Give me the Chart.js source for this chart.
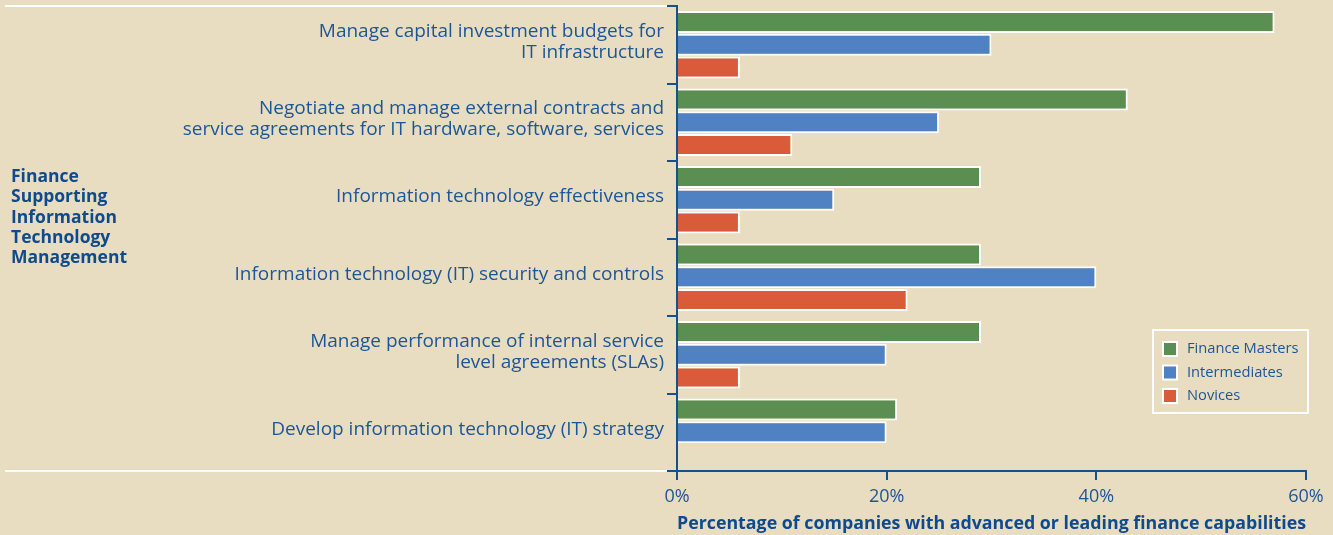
<!DOCTYPE html>
<html>
<head>
<meta charset="utf-8">
<script src="https://cdn.jsdelivr.net/npm/chart.js@4"></script>
<style>
  html, body { margin: 0; padding: 0; background: #e8ddc1; }
  #wrap { width: 1333px; height: 535px; position: relative; }
</style>
</head>
<body>
<div id="wrap"><canvas id="chart" width="1333" height="535"></canvas></div>
<script>
// ---- data ----
const categories = [
    ['Manage capital investment budgets for', 'IT infrastructure'],
    ['Negotiate and manage external contracts and', 'service agreements for IT hardware, software, services'],
    'Information technology effectiveness',
    'Information technology (IT) security and controls',
    ['Manage performance of internal service', 'level agreements (SLAs)'],
    'Develop information technology (IT) strategy'
];
const seriesNames = ['Finance Masters', 'Intermediates', 'Novices'];
const financeMasters = [57, 43, 29, 29, 29, 21];
const intermediates = [30, 25, 15, 40, 20, 20];
const novices = [6, 11, 6, 22, 6, 0];
const xTicks = [0, 20, 40, 60];
const groupTitle = ['Finance', 'Supporting', 'Information', 'Technology', 'Management'];
const axisTitle = 'Percentage of companies with advanced or leading finance capabilities';

// ---- style ----
const BLUE_TXT = '#1d5697';
const BLUE_DARK = '#0f4a8c';
const AXIS = '#15508f';
const COLORS = ['#5b8f52', '#4f81c3', '#d95b3a'];
const FONT = "'Open Sans', 'Noto Sans', sans-serif";

// white rules + left group title
const decorations = {
    id: 'decorations',
    beforeDraw(chart) {
        const { ctx, chartArea } = chart;
        ctx.save();
        ctx.strokeStyle = '#ffffff';
        ctx.lineWidth = 2;
        ctx.beginPath();
        ctx.moveTo(5, chartArea.top);
        ctx.lineTo(chartArea.left - 10, chartArea.top);
        ctx.moveTo(5, chartArea.bottom);
        ctx.lineTo(chartArea.left - 10, chartArea.bottom);
        ctx.stroke();

        ctx.fillStyle = BLUE_DARK;
        ctx.font = `bold 17.5px ${FONT}`;
        ctx.textBaseline = 'middle';
        ctx.textAlign = 'left';
        groupTitle.forEach((t, i) => ctx.fillText(t, 11, 177 + i * 20.3));
        ctx.restore();
    }
};

// legend box inside the plot
const boxLegend = {
    id: 'boxLegend',
    afterDraw(chart) {
        const { ctx } = chart;
        const x = 1153, y = 330, w = 155, h = 83;
        ctx.save();
        ctx.strokeStyle = '#ffffff';
        ctx.lineWidth = 2;
        ctx.strokeRect(x, y, w, h);
        ctx.font = `14.7px ${FONT}`;
        ctx.textBaseline = 'middle';
        chart.data.datasets.forEach((ds, i) => {
            const cy = y + 19 + i * 23.5;
            ctx.fillStyle = '#ffffff';
            ctx.fillRect(x + 9, cy - 8, 16, 16);
            ctx.fillStyle = ds.backgroundColor;
            ctx.fillRect(x + 11, cy - 6, 12, 12);
            ctx.fillStyle = BLUE_TXT;
            ctx.fillText(ds.label, x + 34, cy);
        });
        ctx.restore();
    }
};

const mkSet = (i, data) => ({
    label: seriesNames[i],
    data,
    backgroundColor: COLORS[i],
    borderColor: '#ffffff',
    borderWidth: 2,
    barPercentage: 0.96,
    categoryPercentage: 0.88
});

new Chart(document.getElementById('chart'), {
    type: 'bar',
    data: {
        labels: categories,
        datasets: [mkSet(0, financeMasters), mkSet(1, intermediates), mkSet(2, novices)]
    },
    options: {
        indexAxis: 'y',
        responsive: false,
        animation: false,
        layout: { padding: { top: 6, right: 27, left: 0, bottom: 0 } },
        plugins: { legend: { display: false }, tooltip: { enabled: false } },
        scales: {
            x: {
                min: 0, max: 60,
                afterBuildTicks: s => { s.ticks = xTicks.map(v => ({ value: v })); },
                afterFit: s => { s.height = 64; s.paddingLeft = 0; s.paddingRight = 0; },
                border: { color: AXIS, width: 2 },
                grid: { drawOnChartArea: false, color: AXIS, tickLength: 9, lineWidth: 2 },
                ticks: {
                    color: BLUE_TXT, padding: 6,
                    font: { family: FONT, size: 18 },
                    callback: v => v + '%'
                },
                title: {
                    display: true, text: axisTitle, color: BLUE_DARK,
                    font: { family: FONT, size: 18, weight: 'bold' },
                    padding: { top: 0, bottom: 0 }
                }
            },
            y: {
                afterFit: s => { s.width = 677; s.paddingTop = 0; s.paddingBottom = 0; },
                border: { color: AXIS, width: 2 },
                grid: { drawOnChartArea: false, offset: true, color: AXIS, tickLength: 10, lineWidth: 2 },
                ticks: {
                    color: BLUE_TXT, padding: 3, labelOffset: -3,
                    font: { family: FONT, size: 19, lineHeight: 1.1 }
                }
            }
        }
    },
    plugins: [decorations, boxLegend]
});
</script>
</body>
</html>
